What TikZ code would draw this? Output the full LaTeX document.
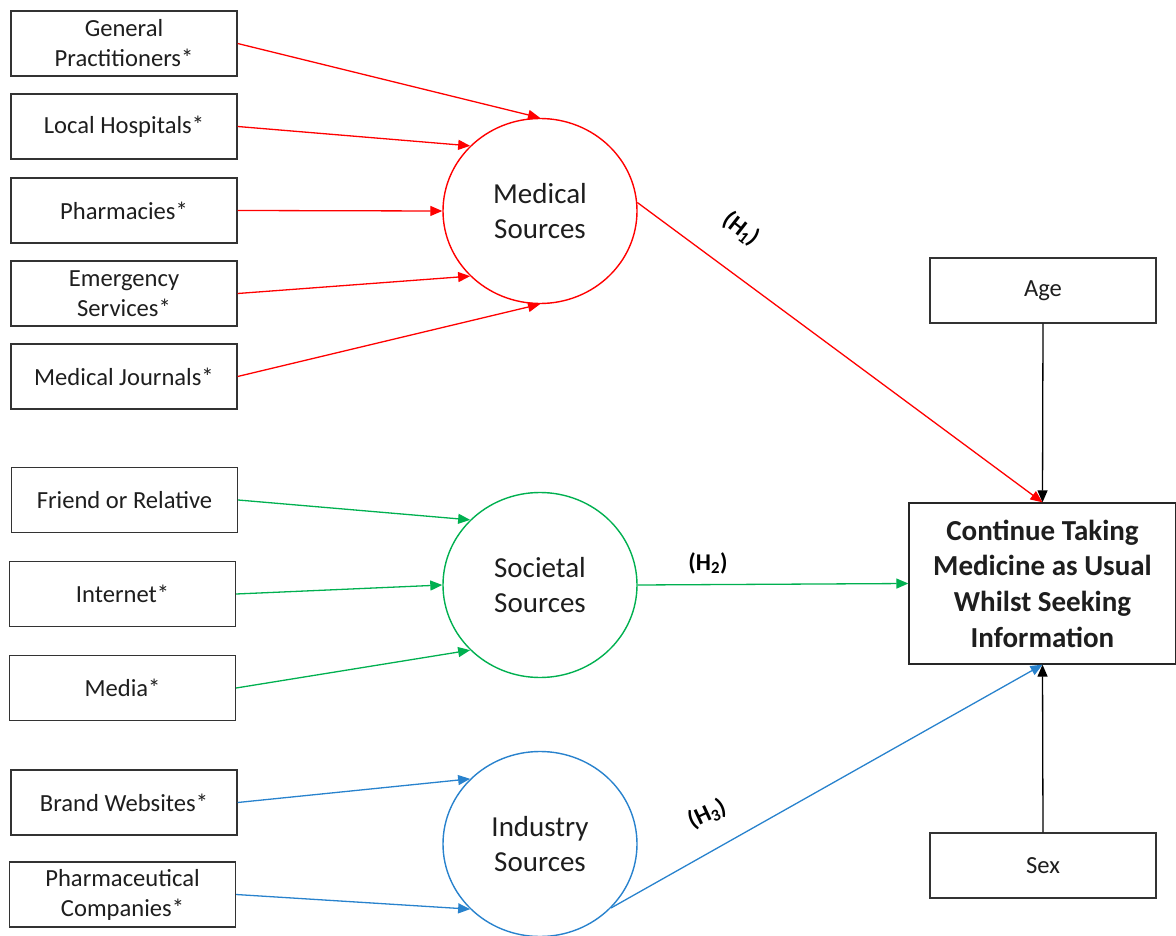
\documentclass[tikz,border=0pt]{standalone}
\usepackage{fontspec}
\setmainfont{Carlito}
\usetikzlibrary{arrows.meta,shapes.geometric}
\definecolor{cred}{RGB}{255,0,0}
\definecolor{cgreen}{RGB}{0,176,80}
\definecolor{cblue}{RGB}{40,130,205}
\definecolor{ctext}{RGB}{30,30,30}
\tikzset{
  srcbox/.style={draw=black!80, line width=1.3pt, minimum width=226pt, minimum height=65pt, inner sep=0pt, align=center, text=ctext, font=\fontsize{24.6}{30}\selectfont},
  ctlbox/.style={srcbox},
  latent/.style={ellipse, line width=1.4pt, fill=white, minimum width=194pt, minimum height=185pt, inner sep=0pt, align=center, text=ctext, font=\fontsize{29}{35}\selectfont},
  arr/.style={line width=1.3pt, -{Triangle[length=12pt,width=10pt]}},
  hlab/.style={font=\bfseries\fontsize{24}{26}\selectfont, text=black, inner sep=0pt}
}
\begin{document}
\begin{tikzpicture}[x=1pt,y=-1pt]
\useasboundingbox (0,0) rectangle (1176,936);
% left source boxes
\node[srcbox] (gp) at (124,43.5) {General\\Practitioners*};
\node[srcbox] (lh) at (124,126.5) {Local Hospitals*};
\node[srcbox] (ph) at (124,210.5) {Pharmacies*};
\node[srcbox] (es) at (124,293.5) {Emergency\\Services*};
\node[srcbox] (mj) at (124,376.5) {Medical Journals*};
\node[srcbox] (fr) at (124.5,500) {Friend or Relative};
\node[srcbox] (in) at (122.5,594) {Internet*};
\node[srcbox] (me) at (122.5,688) {Media*};
\node[srcbox] (bw) at (124,802.5) {Brand Websites*};
\node[srcbox] (pc) at (122.5,894.5) {Pharmaceutical\\Companies*};
% latent variables
\node[latent, draw=cred] (med) at (540,211) {Medical\\Sources};
\node[latent, draw=cgreen] (soc) at (540,585) {Societal\\Sources};
\node[latent, draw=cblue] (ind) at (540,844) {Industry\\Sources};
% outcome and controls
\node[draw=black!85, line width=1.3pt, minimum width=267pt, minimum height=161pt, inner sep=0pt, align=center, text=ctext, font=\bfseries\fontsize{29}{35.7}\selectfont] (out) at (1042.5,583.5) {Continue Taking\\Medicine as Usual\\Whilst Seeking\\Information};
\node[ctlbox] (age) at (1043,290.5) {Age};
\node[ctlbox] (sex) at (1043,865.5) {Sex};
% medical arrows
\draw[arr, cred] (gp.east) -- (med.90);
\draw[arr, cred] (lh.east) -- (med.137);
\draw[arr, cred] (ph.east) -- (med.180);
\draw[arr, cred] (es.east) -- (med.223);
\draw[arr, cred] (mj.east) -- (med.270);
% societal arrows
\draw[arr, cgreen] (fr.east) -- (soc.137);
\draw[arr, cgreen] (in.east) -- (soc.180);
\draw[arr, cgreen] (me.east) -- (soc.223);
% industry arrows
\draw[arr, cblue] (bw.east) -- (ind.137);
\draw[arr, cblue] (pc.east) -- (ind.223);
% hypotheses
\draw[arr, cred] (med.5) -- (out.north);
\draw[arr, cgreen] (soc.0) -- (out.west);
\draw[arr, cblue] (ind.318) -- (out.south);
\draw[arr, black] (age.south) -- (out.north);
\draw[arr, black] (sex.north) -- (out.south);
% labels
\node[hlab, rotate=-38] (h1) at (741,229) {(H\textsubscript{1})};
\node[hlab] (h2) at (708,563) {(H\textsubscript{2})};
\node[hlab, rotate=25] (h3) at (707,814) {(H\textsubscript{3})};
\end{tikzpicture}
\end{document}
